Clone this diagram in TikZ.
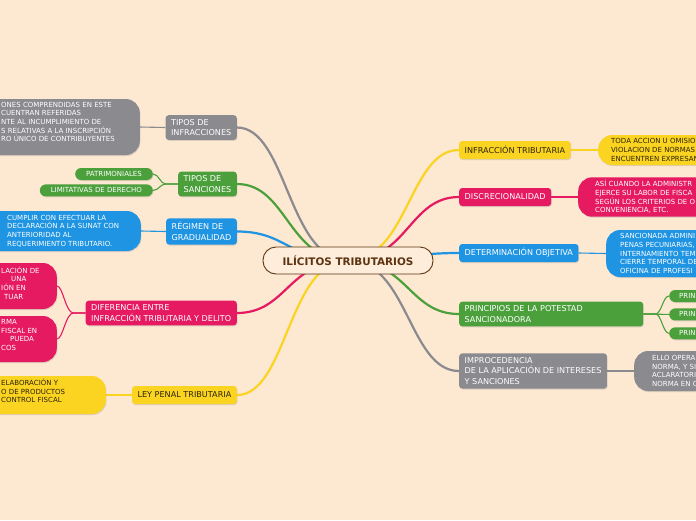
\documentclass[tikz,border=0pt]{standalone}
\usepackage{fontspec}
\setmainfont{DejaVu Sans}
\usetikzlibrary{positioning, shadows}

\definecolor{fondo}{RGB}{253,232,210}
\definecolor{fondoraiz}{RGB}{254,237,218}
\definecolor{gris}{RGB}{138,138,143}
\definecolor{verde}{RGB}{76,160,60}
\definecolor{azul}{RGB}{30,148,226}
\definecolor{rosa}{RGB}{230,26,96}
\definecolor{amarillo}{RGB}{250,212,32}
\definecolor{cafe}{RGB}{92,52,18}
\definecolor{textoam}{RGB}{45,35,10}

\pgfdeclarelayer{lineas}
\pgfsetlayers{lineas,main}

\begin{document}
\begin{tikzpicture}[x=1pt, y=-1pt,
  raiz/.style={rectangle, rounded corners=13pt, draw=cafe, line width=0.9pt, fill=fondoraiz, text=cafe,
    minimum width=170pt, minimum height=27pt, font=\bfseries\fontsize{10.4}{12}\selectfont},
  rama/.style={rectangle, rounded corners=3pt, inner xsep=5.5pt, inner ysep=4pt, minimum height=18pt,
    align=left, text=white, font=\fontsize{8.1}{10.5}\selectfont,
    drop shadow={opacity=0.25, shadow xshift=0.6pt, shadow yshift=-1pt}},
  hoja/.style={rectangle, rounded corners=14pt, inner ysep=3pt, align=left, text=white,
    font=\fontsize{7}{8.7}\selectfont,
    drop shadow={opacity=0.25, shadow xshift=0.6pt, shadow yshift=-1pt}},
  hojita/.style={rectangle, rounded corners=6pt, inner xsep=10pt, inner ysep=1.5pt, minimum height=12pt,
    text=white, font=\fontsize{7}{8.7}\selectfont,
    drop shadow={opacity=0.25, shadow xshift=0.6pt, shadow yshift=-1pt}},
  textohoja/.style={inner sep=0pt, align=left, text=white, font=\fontsize{7}{8.7}\selectfont},
  tronco/.style={line width=2.2pt, line cap=round},
  sub/.style={line width=1.1pt}]

\useasboundingbox (0,0) rectangle (696,520);
\begin{pgfonlayer}{lineas}
  \fill[fondo] (0,0) rectangle (696,520);
\end{pgfonlayer}
\clip (0,0) rectangle (696,520);

% centro
\node[raiz] (raiz) at (348,260.5) {ILÍCITOS TRIBUTARIOS};

% ramas izquierda
\node[rama, fill=gris, anchor=east] (tinf) at (237,127.5) {TIPOS DE\\INFRACCIONES};
\node[rama, fill=verde, anchor=east] (tsan) at (237,184) {TIPOS DE\\SANCIONES};
\node[rama, fill=azul, anchor=east] (regi) at (237,231.5) {RÉGIMEN DE\\GRADUALIDAD};
\node[rama, fill=rosa, anchor=east] (dife) at (237,313) {DIFERENCIA ENTRE\\INFRACCIÓN TRIBUTARIA Y DELITO};
\node[rama, fill=amarillo, text=textoam, anchor=east] (ley) at (237,395) {LEY PENAL TRIBUTARIA};

% ramas derecha
\node[rama, fill=amarillo, text=textoam, anchor=west] (infr) at (459,150) {INFRACCIÓN TRIBUTARIA};
\node[rama, fill=rosa, anchor=west] (disc) at (459,197) {DISCRECIONALIDAD};
\node[rama, fill=azul, anchor=west] (dete) at (459,253) {DETERMINACIÓN OBJETIVA};
\node[rama, fill=verde, anchor=west, text width=173pt] (prin) at (459,314) {PRINCIPIOS DE LA POTESTAD\\SANCIONADORA};
\node[rama, fill=gris, anchor=west] (impr) at (459,371) {IMPROCEDENCIA\\DE LA APLICACIÓN DE INTERESES\\Y SANCIONES};

% hojas izquierda
\node[hoja, fill=gris, minimum width=200pt, minimum height=56pt, anchor=east] (tinfH) at (140,127) {};
\node[textohoja, anchor=west] (tinfT) at (1,122) {ONES COMPRENDIDAS EN ESTE\\CUENTRAN REFERIDAS\\NTE AL INCUMPLIMIENTO DE\\S RELATIVAS A LA INSCRIPCIÓN\\RO ÚNICO DE CONTRIBUYENTES};

\node[hojita, fill=verde, anchor=east, inner xsep=11pt] (patr) at (153,174) {PATRIMONIALES};
\node[hojita, fill=verde, inner xsep=11pt, below=4pt of patr.south east, anchor=north east] (limi) {LIMITATIVAS DE DERECHO};

\node[hoja, fill=azul, minimum width=200pt, minimum height=40pt, anchor=east] (regiH) at (141,231) {};
\node[textohoja, anchor=west] (regiT) at (7,231) {CUMPLIR CON EFECTUAR LA\\DECLARACIÓN A LA SUNAT CON\\ANTERIORIDAD AL\\REQUERIMIENTO TRIBUTARIO.};

\node[hoja, fill=rosa, minimum width=120pt, minimum height=46pt, anchor=east] (difeH1) at (57,286) {};
\node[textohoja, anchor=west] (difeT1) at (1,283) {LACIÓN DE\\\hspace*{10pt}UNA\\IÓN EN\\\hspace*{3pt}TUAR};
\node[hoja, fill=rosa, minimum width=120pt, minimum height=46pt, anchor=east] (difeH2) at (57,339) {};
\node[textohoja, anchor=west] (difeT2) at (1,335) {RMA\\FISCAL EN\\\hspace*{9pt}PUEDA\\COS};

\node[hoja, fill=amarillo, minimum width=150pt, minimum height=38pt, anchor=east] (leyH) at (106,395) {};
\node[textohoja, text=textoam, anchor=west] (leyT) at (1,391) {ELABORACIÓN Y\\O DE PRODUCTOS\\CONTROL FISCAL};

% hojas derecha
\node[hoja, fill=amarillo, text=textoam, anchor=west, inner xsep=13pt, minimum height=30pt] (infrH) at (598,150) {TODA ACCION U OMISIO\\VIOLACION DE NORMAS\\ENCUENTREN EXPRESAN};
\node[hoja, fill=rosa, anchor=west, inner xsep=17pt, minimum height=38pt] (discH) at (578,197) {ASÍ CUANDO LA ADMINISTR\\EJERCE SU LABOR DE FISCA\\SEGÚN LOS CRITERIOS DE O\\CONVENIENCIA, ETC.};
\node[hoja, fill=azul, anchor=west, inner xsep=14pt, minimum height=47pt] (deteH) at (606,253.5) {SANCIONADA ADMINI\\PENAS PECUNIARIAS,\\INTERNAMIENTO TEM\\CIERRE TEMPORAL DE\\OFICINA DE PROFESI};
\node[hojita, fill=verde, anchor=west] (prin1) at (669,296) {PRIN};
\node[hojita, fill=verde, below=6pt of prin1.south west, anchor=north west] (prin2) {PRIN};
\node[hojita, fill=verde, below=6.5pt of prin2.south west, anchor=north west] (prin3) {PRIN};
\node[hoja, fill=gris, anchor=west, inner xsep=18pt, minimum height=40pt] (imprH) at (634,371) {ELLO OPERA\\NORMA, Y SI\\ACLARATORI\\NORMA EN C};

% conectores
\begin{pgfonlayer}{lineas}
  \draw[tronco, gris] (raiz.center) .. controls +(-60,0) and +(50,0) .. (tinf.east);
  \draw[tronco, verde] (raiz.center) .. controls +(-60,0) and +(50,0) .. (tsan.east);
  \draw[tronco, azul] (raiz.center) .. controls +(-60,0) and +(50,0) .. (regi.east);
  \draw[tronco, rosa] (raiz.center) .. controls +(-60,0) and +(50,0) .. (dife.east);
  \draw[tronco, amarillo] (raiz.center) .. controls +(-60,0) and +(50,0) .. (ley.east);
  \draw[tronco, amarillo] (raiz.center) .. controls +(60,0) and +(-50,0) .. (infr.west);
  \draw[tronco, rosa] (raiz.center) .. controls +(60,0) and +(-50,0) .. (disc.west);
  \draw[tronco, azul] (raiz.center) .. controls +(60,0) and +(-50,0) .. (dete.west);
  \draw[tronco, verde] (raiz.center) .. controls +(60,0) and +(-50,0) .. (prin.west);
  \draw[tronco, gris] (raiz.center) .. controls +(60,0) and +(-50,0) .. (impr.west);

  \draw[sub, gris] (tinf.west) -- (tinfH.east);
  \draw[sub, verde] (tsan.west) -- ++(-12,0) .. controls +(-6,0) and +(6,0) .. (patr.east);
  \draw[sub, verde] (tsan.west) -- ++(-12,0) .. controls +(-6,0) and +(6,0) .. (limi.east);
  \draw[sub, azul] (regi.west) -- (regiH.east);
  \draw[sub, rosa] (dife.west) -- ++(-12,0) .. controls +(-8,0) and +(6,0) .. (difeH1.east);
  \draw[sub, rosa] (dife.west) -- ++(-12,0) .. controls +(-8,0) and +(6,0) .. (difeH2.east);
  \draw[sub, amarillo] (ley.west) -- (leyH.east);
  \draw[sub, amarillo] (infr.east) -- (infrH.west);
  \draw[sub, rosa] (disc.east) -- (discH.west);
  \draw[sub, azul] (dete.east) -- (deteH.west);
  \draw[sub, verde] (prin.east) -- ++(12,0) .. controls +(6,0) and +(-6,0) .. (prin1.west);
  \draw[sub, verde] (prin.east) -- (prin2.west);
  \draw[sub, verde] (prin.east) -- ++(12,0) .. controls +(6,0) and +(-6,0) .. (prin3.west);
  \draw[sub, gris] (impr.east) -- (imprH.west);
\end{pgfonlayer}

\end{tikzpicture}
\end{document}
